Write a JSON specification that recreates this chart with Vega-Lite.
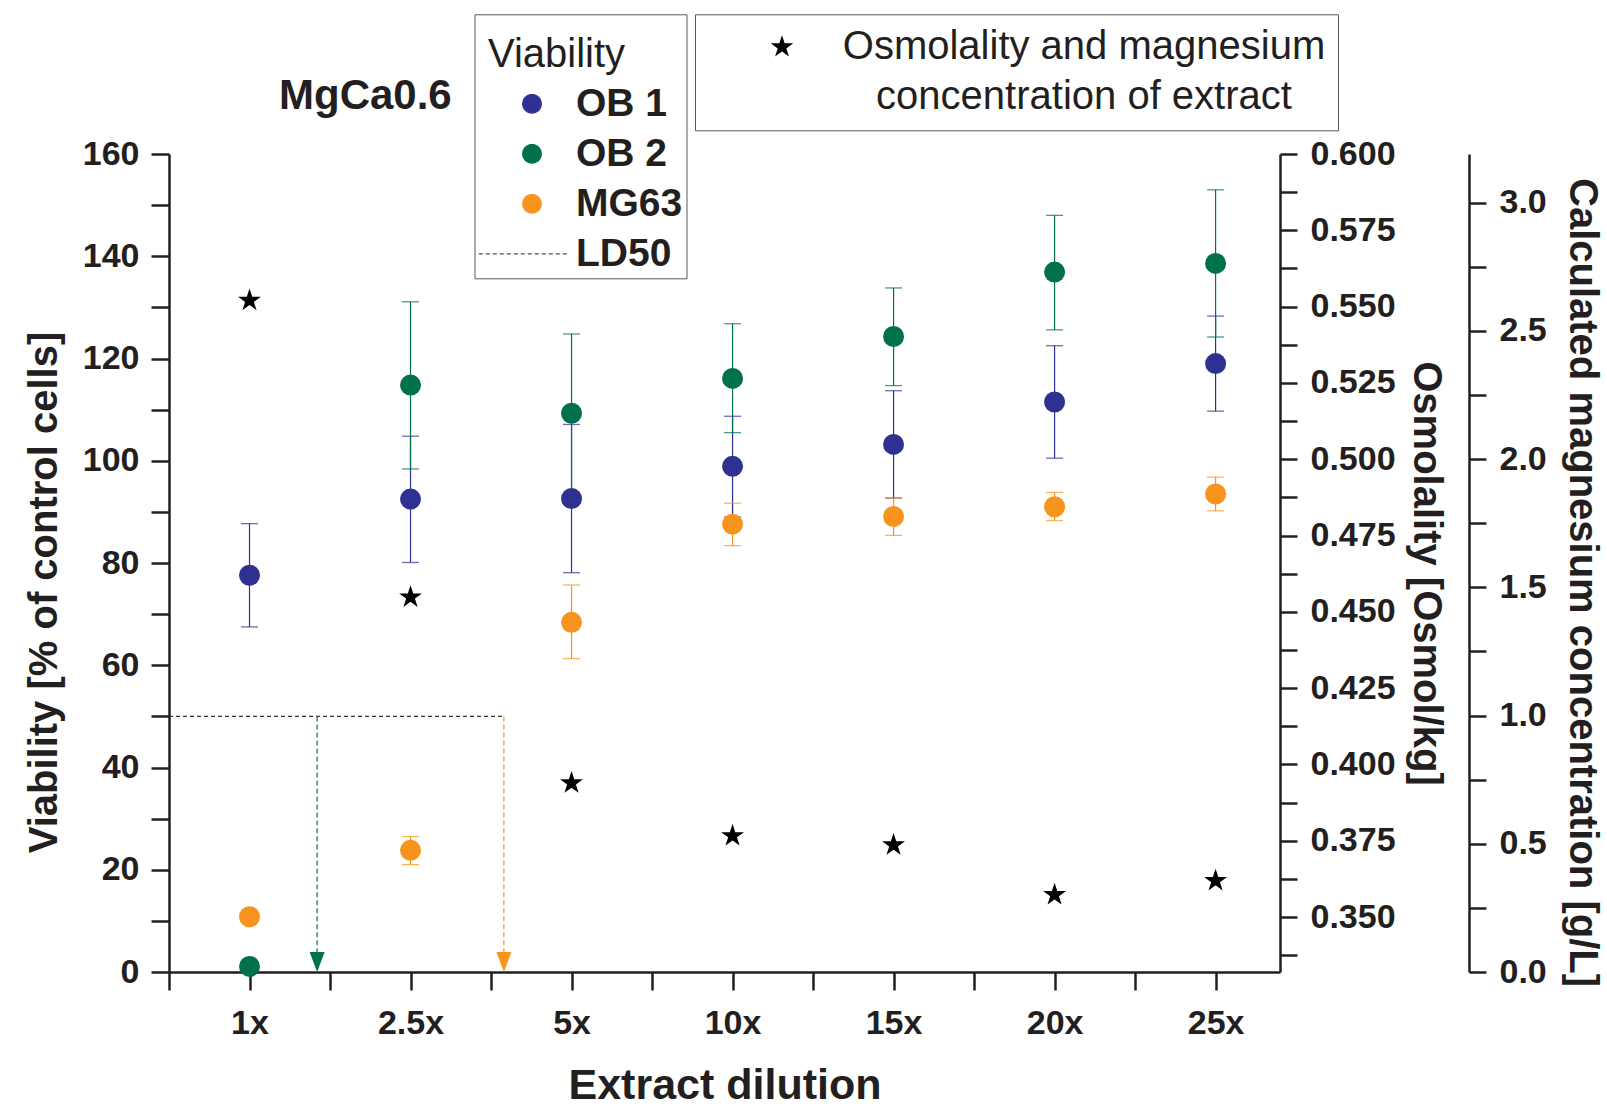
{
  "$schema": "https://vega.github.io/schema/vega-lite/v6.json",
  "width": 1111,
  "height": 818,
  "autosize": {"type": "none"},
  "padding": {"left": 169, "top": 154, "right": 327, "bottom": 137},
  "background": "white",
  "config": {
    "view": {"stroke": null},
    "font": "Liberation Sans",
    "style": {"guide-label": {"lineHeight": 50}},
    "axis": {
      "grid": false,
      "domainColor": "#231f20",
      "domainWidth": 2.5,
      "tickColor": "#231f20",
      "tickWidth": 2.5,
      "labelColor": "#231f20",
      "titleColor": "#231f20",
      "labelFont": "Liberation Sans",
      "titleFont": "Liberation Sans",
      "labelFontSize": 34,
      "labelFontWeight": "bold",
      "titleFontSize": 40,
      "titleFontWeight": "bold",
      "labelOverlap": false,
      "labelFlush": false
    }
  },
  "title": {
    "text": "MgCa0.6",
    "anchor": "start",
    "frame": "group",
    "dx": 110,
    "offset": -137,
    "baseline": "alphabetic",
    "fontSize": 42,
    "fontWeight": "bold",
    "font": "Liberation Sans",
    "color": "#231f20"
  },
  "datasets": {
    "viab": [
      {"d": 1, "s": "MG63", "v": 10.8, "lo": null, "hi": null},
      {"d": 2, "s": "MG63", "v": 23.8, "lo": 21.0, "hi": 26.5},
      {"d": 3, "s": "MG63", "v": 68.4, "lo": 61.3, "hi": 75.7},
      {"d": 4, "s": "MG63", "v": 87.6, "lo": 83.4, "hi": 91.7},
      {"d": 5, "s": "MG63", "v": 89.1, "lo": 85.4, "hi": 92.7},
      {"d": 6, "s": "MG63", "v": 91.0, "lo": 88.3, "hi": 93.8},
      {"d": 7, "s": "MG63", "v": 93.5, "lo": 90.2, "hi": 96.8},
      {"d": 1, "s": "OB 1", "v": 77.6, "lo": 67.5, "hi": 87.7},
      {"d": 2, "s": "OB 1", "v": 92.5, "lo": 80.1, "hi": 104.8},
      {"d": 3, "s": "OB 1", "v": 92.6, "lo": 78.1, "hi": 107.1},
      {"d": 4, "s": "OB 1", "v": 98.9, "lo": 89.0, "hi": 108.7},
      {"d": 5, "s": "OB 1", "v": 103.2, "lo": 92.7, "hi": 113.7},
      {"d": 6, "s": "OB 1", "v": 111.5, "lo": 100.5, "hi": 122.5},
      {"d": 7, "s": "OB 1", "v": 119.0, "lo": 109.7, "hi": 128.3},
      {"d": 1, "s": "OB 2", "v": 1.1, "lo": null, "hi": null},
      {"d": 2, "s": "OB 2", "v": 114.8, "lo": 98.4, "hi": 131.1},
      {"d": 3, "s": "OB 2", "v": 109.3, "lo": 93.7, "hi": 124.8},
      {"d": 4, "s": "OB 2", "v": 116.1, "lo": 105.5, "hi": 126.8},
      {"d": 5, "s": "OB 2", "v": 124.3, "lo": 114.7, "hi": 133.8},
      {"d": 6, "s": "OB 2", "v": 136.9, "lo": 125.6, "hi": 148.0},
      {"d": 7, "s": "OB 2", "v": 138.6, "lo": 124.2, "hi": 153.0}
    ],
    "osm": [
      {"d": 1, "k": "Osmolality", "o": 0.552},
      {"d": 2, "k": "Osmolality", "o": 0.4548},
      {"d": 3, "k": "Osmolality", "o": 0.3939},
      {"d": 4, "k": "Osmolality", "o": 0.3766},
      {"d": 5, "k": "Osmolality", "o": 0.3736},
      {"d": 6, "k": "Osmolality", "o": 0.3573},
      {"d": 7, "k": "Osmolality", "o": 0.3619}
    ],
    "ld50h": [
      {"d": 0.5, "d2": 2.58, "l": 50}
    ],
    "ld50v": [
      {"d": 1.42, "s": "OB 2", "l": 50},
      {"d": 2.58, "s": "MG63", "l": 50}
    ]
  },
  "encoding": {
    "x": {
      "field": "d",
      "type": "quantitative",
      "scale": {"domain": [0.5, 7.4], "nice": false, "zero": false},
      "axis": {
        "title": "Extract dilution",
        "titleFontSize": 43,
        "values": [0.5, 1, 1.5, 2, 2.5, 3, 3.5, 4, 4.5, 5, 5.5, 6, 6.5, 7],
        "labelExpr": "datum.value % 1 === 0 ? ['', '1x', '2.5x', '5x', '10x', '15x', '20x', '25x'][datum.value] : ''",
        "tickSize": 18,
        "labelPadding": 16,
        "titlePadding": 24,
        "encode": {"ticks": {"update": {"y2": {"signal": "datum.value % 1 === 0 ? 18 : 10"}}}}
      }
    }
  },
  "layer": [
    {
      "data": {"name": "viab"},
      "transform": [{"filter": "datum.lo != null"}],
      "mark": {"type": "rule", "strokeWidth": 1.2},
      "encoding": {
        "y": {
          "field": "lo",
          "type": "quantitative",
          "scale": {"domain": [0, 160], "nice": false, "zero": false},
          "axis": {
            "orient": "left",
            "title": "Viability [% of control cells]",
            "values": [0, 10, 20, 30, 40, 50, 60, 70, 80, 90, 100, 110, 120, 130, 140, 150, 160],
            "labelExpr": "datum.value % 20 === 0 ? datum.label : ''",
            "tickSize": 18,
            "labelPadding": 12,
            "titlePadding": 18,
            "titleY": 438,
            "encode": {"ticks": {"update": {"x2": {"signal": "datum.value % 20 === 0 ? -18 : -10"}}}}
          }
        },
        "y2": {"field": "hi"},
        "color": {
          "field": "s",
          "type": "nominal",
          "scale": {"domain": ["OB 1", "OB 2", "MG63", "LD50"], "range": ["#2e3192", "#00714a", "#f7941d", "#4d4d4f"]},
          "legend": {
            "orient": "none",
            "legendX": 305.5,
            "legendY": -139.7,
            "title": "Viability",
            "titleFont": "Liberation Sans",
            "titleFontSize": 40,
            "titleFontWeight": "normal",
            "titleColor": "#231f20",
            "titlePadding": 26,
            "labelFont": "Liberation Sans",
            "labelFontSize": 39,
            "labelFontWeight": "bold",
            "labelColor": "#231f20",
            "labelLimit": 400,
            "symbolType": "circle",
            "symbolSize": 342,
            "symbolStrokeWidth": 1.3,
            "symbolOffset": 34,
            "labelOffset": 24.5,
            "rowPadding": 10,
            "padding": 4,
            "strokeColor": "#58595b",
            "fillColor": "white",
            "encode": {
              "title": {"update": {"dx": {"value": 9.5}, "dy": {"value": 17}}},
              "symbols": {
                "update": {
                  "shape": {"signal": "datum.value === 'LD50' ? 'M-5.75,0L4,0' : 'circle'"},
                  "fill": {"signal": "datum.value === 'LD50' ? 'transparent' : scale('color', datum.value)"},
                  "stroke": {"signal": "datum.value === 'LD50' ? '#4d4d4f' : 'transparent'"},
                  "strokeDash": {"signal": "datum.value === 'LD50' ? [4, 3] : [1, 0]"},
                  "opacity": {"value": 1}
                }
              }
            }
          }
        }
      }
    },
    {
      "data": {"name": "viab"},
      "transform": [{"filter": "datum.lo != null"}],
      "mark": {"type": "tick", "orient": "horizontal", "size": 17, "thickness": 1.3},
      "encoding": {
        "y": {"field": "lo", "type": "quantitative", "scale": {"domain": [0, 160], "nice": false, "zero": false}, "axis": null},
        "color": {"field": "s", "type": "nominal"}
      }
    },
    {
      "data": {"name": "viab"},
      "transform": [{"filter": "datum.lo != null"}],
      "mark": {"type": "tick", "orient": "horizontal", "size": 17, "thickness": 1.3},
      "encoding": {
        "y": {"field": "hi", "type": "quantitative", "scale": {"domain": [0, 160], "nice": false, "zero": false}, "axis": null},
        "color": {"field": "s", "type": "nominal"}
      }
    },
    {
      "data": {"name": "ld50h"},
      "mark": {"type": "rule", "color": "#333333", "strokeWidth": 1.2, "strokeDash": [4, 3]},
      "encoding": {
        "x2": {"field": "d2"},
        "y": {"field": "l", "type": "quantitative", "scale": {"domain": [0, 160], "nice": false, "zero": false}, "axis": null}
      }
    },
    {
      "data": {"name": "ld50v"},
      "mark": {"type": "rule", "strokeWidth": 1.2, "strokeDash": [5, 3]},
      "encoding": {
        "y": {"field": "l", "type": "quantitative", "scale": {"domain": [0, 160], "nice": false, "zero": false}, "axis": null},
        "y2": {"datum": 0},
        "color": {"field": "s", "type": "nominal"}
      }
    },
    {
      "data": {"name": "ld50v"},
      "mark": {"type": "point", "filled": true, "opacity": 1, "size": 400, "shape": "M-0.75,-2L0.75,-2L0,0Z"},
      "encoding": {
        "y": {"datum": 0, "type": "quantitative", "scale": {"domain": [0, 160], "nice": false, "zero": false}, "axis": null},
        "color": {"field": "s", "type": "nominal"}
      }
    },
    {
      "data": {"name": "viab"},
      "mark": {"type": "point", "filled": true, "opacity": 1, "size": 441, "shape": "circle", "strokeWidth": 0},
      "encoding": {
        "y": {"field": "v", "type": "quantitative", "scale": {"domain": [0, 160], "nice": false, "zero": false}, "axis": null},
        "color": {"field": "s", "type": "nominal"}
      }
    },
    {
      "data": {"name": "osm"},
      "mark": {"type": "point", "filled": true, "opacity": 1, "size": 580, "color": "black", "strokeWidth": 0},
      "encoding": {
        "y": {
          "field": "o",
          "type": "quantitative",
          "scale": {"domain": [0.332, 0.6], "nice": false, "zero": false},
          "axis": {
            "orient": "right",
            "title": "Osmolality [Osmol/kg]",
            "values": [0.3375, 0.35, 0.3625, 0.375, 0.3875, 0.4, 0.4125, 0.425, 0.4375, 0.45, 0.4625, 0.475, 0.4875, 0.5, 0.5125, 0.525, 0.5375, 0.55, 0.5625, 0.575, 0.5875, 0.6],
            "format": ".3f",
            "labelExpr": "abs(datum.value * 40 - round(datum.value * 40)) < 0.01 ? datum.label : ''",
            "tickSize": 17,
            "labelPadding": 13,
            "titlePadding": 10,
            "titleY": 419,
            "encode": {"ticks": {"update": {"x2": {"signal": "abs(datum.value * 40 - round(datum.value * 40)) < 0.01 ? 17 : 9"}}}}
          }
        },
        "shape": {
          "field": "k",
          "type": "nominal",
          "scale": {"domain": ["Osmolality"], "range": ["M0,-1L0.2245,-0.309L0.951,-0.309L0.363,0.118L0.588,0.809L0,0.382L-0.588,0.809L-0.363,0.118L-0.951,-0.309L-0.2245,-0.309Z"]},
          "legend": {
            "orient": "none",
            "legendX": 526,
            "legendY": -139.7,
            "title": null,
            "padding": 12.7,
            "symbolSize": 560,
            "symbolFillColor": "black",
            "symbolStrokeWidth": 0,
            "symbolOffset": 54.3,
            "labelOffset": 282,
            "labelAlign": "center",
            "labelFont": "Liberation Sans",
            "labelFontSize": 40,
            "labelFontWeight": "normal",
            "labelColor": "#231f20",
            "labelLimit": 1000,
            "labelExpr": "['Osmolality and magnesium', 'concentration of extract']",
            "strokeColor": "#58595b",
            "fillColor": "white",
            "encode": {"labels": {"update": {"lineHeight": {"value": 50}}}}
          }
        }
      }
    },
    {
      "data": {"name": "osm"},
      "mark": {"type": "point", "opacity": 0},
      "encoding": {
        "y": {
          "field": "o",
          "type": "quantitative",
          "scale": {"domain": [0, 3.19], "nice": false, "zero": false},
          "axis": {
            "orient": "right",
            "offset": 189,
            "title": "Calculated magnesium concentration [g/L]",
            "values": [0, 0.25, 0.5, 0.75, 1, 1.25, 1.5, 1.75, 2, 2.25, 2.5, 2.75, 3],
            "format": ".1f",
            "labelExpr": "abs(datum.value * 2 - round(datum.value * 2)) < 0.01 ? datum.label : ''",
            "tickSize": 17,
            "labelPadding": 13,
            "titlePadding": 15,
            "titleY": 428,
            "encode": {"ticks": {"update": {"x2": {"signal": "abs(datum.value * 2 - round(datum.value * 2)) < 0.01 ? 17 : 9"}}}}
          }
        }
      }
    }
  ],
  "resolve": {"scale": {"y": "independent"}, "axis": {"y": "independent"}}
}
